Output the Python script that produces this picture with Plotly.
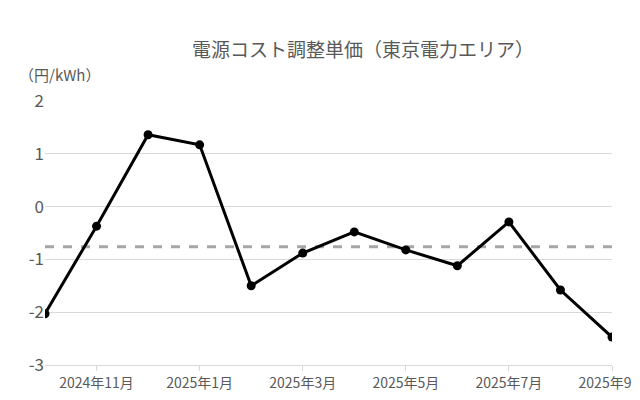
import plotly.graph_objects as go

months = ["2024年10月","2024年11月","2024年12月","2025年1月","2025年2月","2025年3月",
          "2025年4月","2025年5月","2025年6月","2025年7月","2025年8月","2025年9月"]
values = [-2.03,-0.37,1.36,1.17,-1.50,-0.88,-0.48,-0.82,-1.12,-0.29,-1.58,-2.47]
average = [-0.76]*len(months)
tick_idx = [1,3,5,7,9,11]
y_ticks = [2, 1, 0, -1, -2, -3]
y_labels = ["2", "1", "0", "-1", "-2", "-3"]

x = list(range(len(months)))
font = "Noto Sans CJK JP"
fig = go.Figure()
fig.add_trace(go.Scatter(x=x, y=average, mode="lines",
                         line=dict(color="#A6A6A6", width=3, dash="dash"), hoverinfo="skip"))
fig.add_trace(go.Scatter(x=x, y=values, mode="lines+markers",
                         line=dict(color="black", width=3), marker=dict(size=9, color="black")))
fig.update_layout(
    width=640, height=400, showlegend=False,
    plot_bgcolor="white", paper_bgcolor="white",
    margin=dict(l=37, r=36, t=93, b=43),
    font=dict(family=font, color="#595959", size=15),
    xaxis=dict(range=[0, 11], tickvals=tick_idx, ticktext=[months[i] for i in tick_idx],
               automargin=False,
               showgrid=False, zeroline=False, showline=True, linecolor="#D9D9D9",
               ticks="outside", ticklen=5, tickcolor="#D9D9D9", tickfont=dict(size=14)),
    yaxis=dict(range=[-3, 2], tickvals=y_ticks, ticktext=y_labels, automargin=False,
               showgrid=True, gridcolor="#D9D9D9", zeroline=False,
               ticks="", tickfont=dict(size=17)),
    annotations=[
        dict(text="電源コスト調整単価（東京電力エリア）", xref="paper", yref="paper",
             x=0.56, y=1.2, xanchor="center", yanchor="middle", showarrow=False,
             font=dict(size=19, color="#595959")),
        dict(text="（円/kWh）", xref="paper", yref="paper", x=-0.05, y=1.1,
             xanchor="left", yanchor="middle", showarrow=False, font=dict(size=15)),
    ],
)
fig.write_html("out.html")
